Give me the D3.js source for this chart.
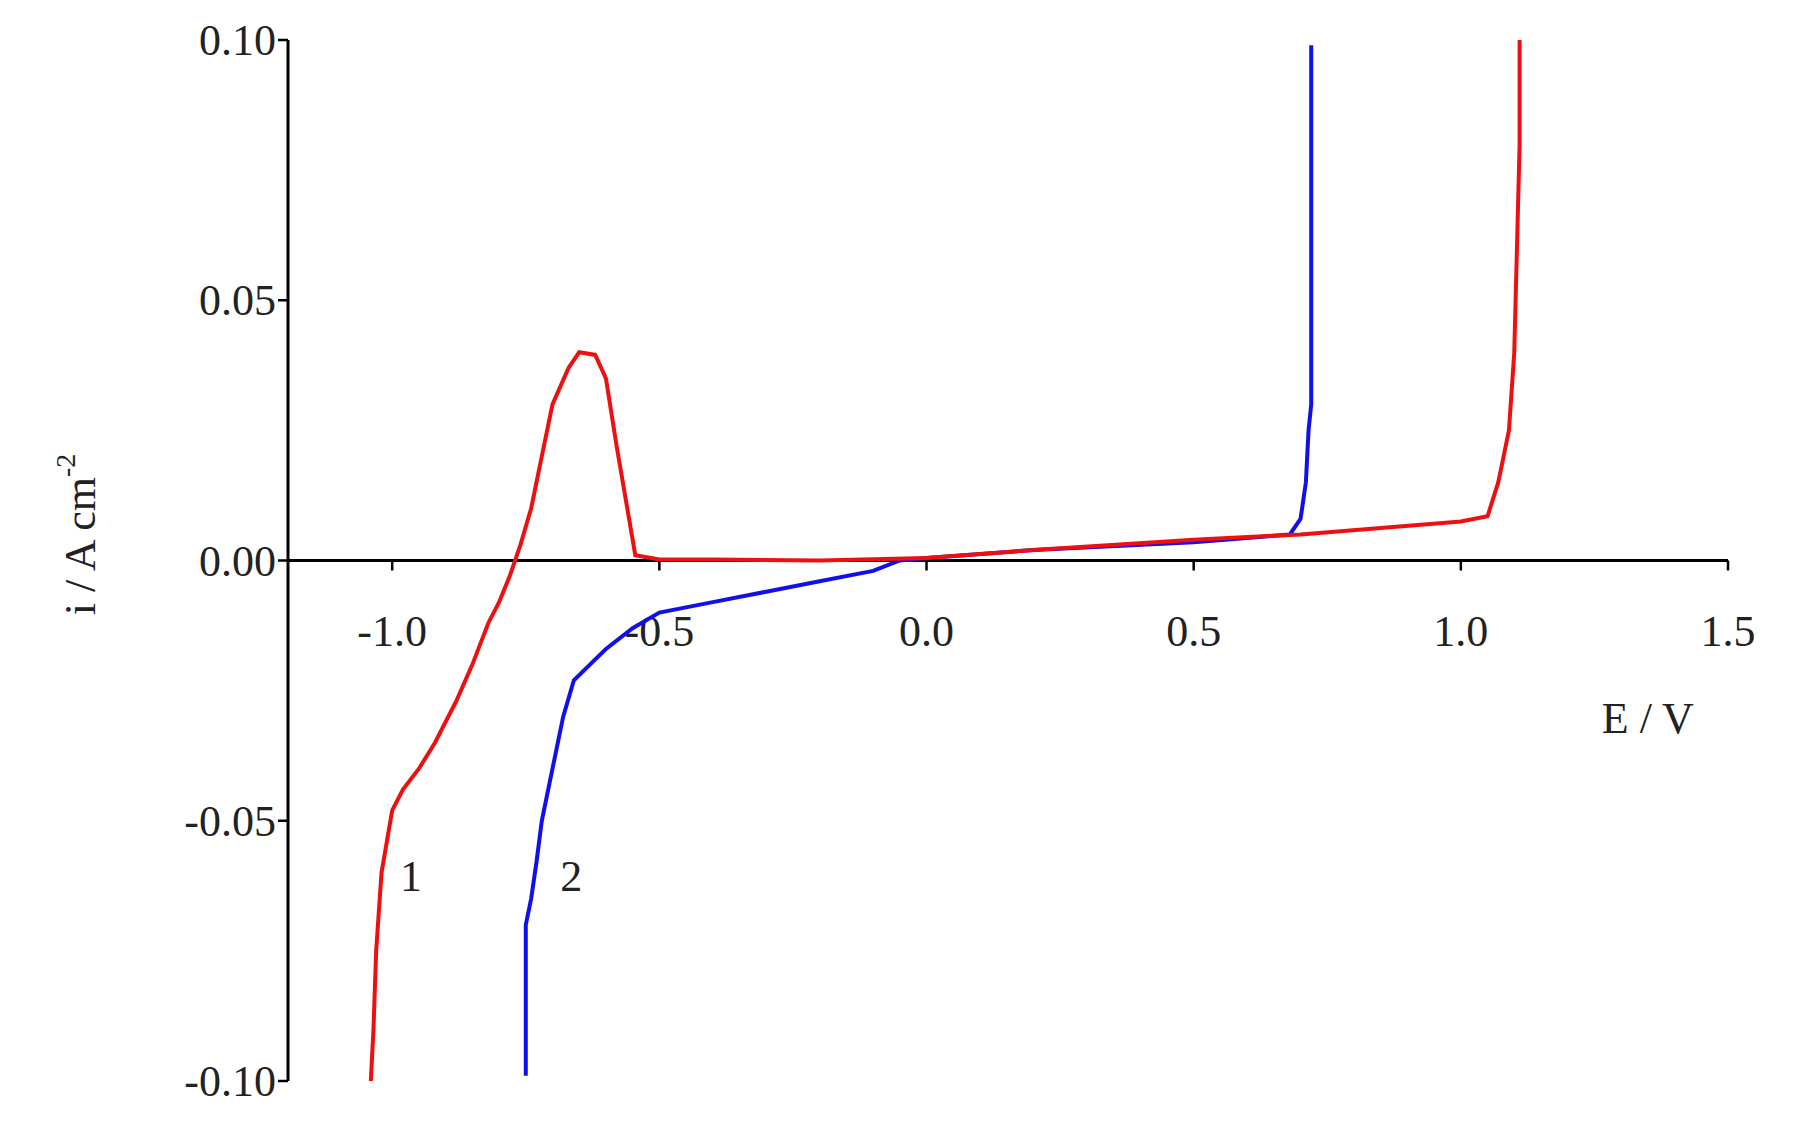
<!DOCTYPE html><html><head><meta charset="utf-8"><script src="https://cdn.jsdelivr.net/npm/d3@7"></script>
<style>body{margin:0;background:#fff}text{font-family:"Liberation Serif","Times New Roman",serif;fill:#222}</style></head><body>
<svg id="c" width="1797" height="1126"></svg>
<script>
const xTicks=[-1.0,-0.5,0.0,0.5,1.0,1.5];
const yTicks=[-0.10,-0.05,0.00,0.05,0.10];
const curve1E=[-1.04,-1.035,-1.03,-1.02,-1.0,-0.98,-0.95,-0.92,-0.88,-0.85,-0.82,-0.8,-0.78,-0.76,-0.74,-0.72,-0.70,-0.67,-0.65,-0.62,-0.60,-0.58,-0.56,-0.545,-0.5,-0.4,-0.2,0,0.2,0.5,0.7,1.0,1.05,1.07,1.09,1.10,1.105,1.11,1.11];
const curve1I=[-0.10,-0.09,-0.075,-0.06,-0.048,-0.044,-0.04,-0.035,-0.027,-0.02,-0.012,-0.008,-0.003,0.003,0.01,0.02,0.03,0.037,0.040,0.0395,0.035,0.022,0.01,0.001,0.0002,0.0002,0,0.0005,0.002,0.004,0.005,0.0075,0.0085,0.015,0.025,0.04,0.06,0.08,0.10];
const curve2E=[-0.75,-0.75,-0.74,-0.73,-0.72,-0.70,-0.68,-0.66,-0.63,-0.60,-0.55,-0.5,-0.4,-0.3,-0.2,-0.1,-0.05,0,0.2,0.5,0.68,0.70,0.71,0.715,0.72,0.72,0.72];
const curve2I=[-0.099,-0.07,-0.065,-0.058,-0.05,-0.04,-0.03,-0.023,-0.02,-0.017,-0.013,-0.01,-0.008,-0.006,-0.004,-0.002,0,0.0005,0.002,0.0035,0.005,0.008,0.015,0.025,0.03,0.06,0.099];
const svg=d3.select("#c");
const x=d3.scaleLinear().domain([-1.195,1.5]).range([288,1728]);
const y=d3.scaleLinear().domain([-0.10,0.10]).range([1081,40]);
const fs=44;
// x axis at 0
svg.append("line").attr("x1",x(-1.195)).attr("x2",x(1.5)).attr("y1",y(0)).attr("y2",y(0)).attr("stroke","#000").attr("stroke-width",3);
svg.append("line").attr("x1",x(-1.195)).attr("x2",x(-1.195)).attr("y1",y(-0.1)).attr("y2",y(0.1)).attr("stroke","#000").attr("stroke-width",3);
xTicks.forEach(t=>{svg.append("line").attr("x1",x(t)).attr("x2",x(t)).attr("y1",y(0)).attr("y2",y(0)+10).attr("stroke","#000").attr("stroke-width",2.5);
 svg.append("text").attr("x",x(t)).attr("y",y(0)+85).attr("text-anchor","middle").attr("font-size",fs).text(t.toFixed(1));});
yTicks.forEach(t=>{svg.append("line").attr("x1",x(-1.195)-10).attr("x2",x(-1.195)).attr("y1",y(t)).attr("y2",y(t)).attr("stroke","#000").attr("stroke-width",2.5);
 svg.append("text").attr("x",x(-1.195)-12).attr("y",y(t)+15).attr("text-anchor","end").attr("font-size",fs).text(t.toFixed(2));});
const line=d3.line().x(d=>x(d[0])).y(d=>y(d[1]));
svg.append("path").datum(curve2E.map((e,i)=>[e,curve2I[i]])).attr("d",line).attr("fill","none").attr("stroke","#1010ee").attr("stroke-width",4);
svg.append("path").datum(curve1E.map((e,i)=>[e,curve1I[i]])).attr("d",line).attr("fill","none").attr("stroke","#ee1010").attr("stroke-width",4);
svg.append("text").attr("x",x(-0.965)).attr("y",y(-0.06)+18).attr("font-size",fs).attr("text-anchor","middle").text("1");
svg.append("text").attr("x",x(-0.665)).attr("y",y(-0.06)+18).attr("font-size",fs).attr("text-anchor","middle").text("2");
svg.append("text").attr("x",x(1.35)).attr("y",y(0)+172).attr("font-size",fs).attr("text-anchor","middle").text("E / V");
const yl=svg.append("text").attr("transform",`translate(95,${y(0.005)}) rotate(-90)`).attr("text-anchor","middle").attr("font-size",fs);
yl.append("tspan").text("i / A cm");
yl.append("tspan").attr("font-size",28).attr("dy",-20).text("-2");
</script></body></html>
